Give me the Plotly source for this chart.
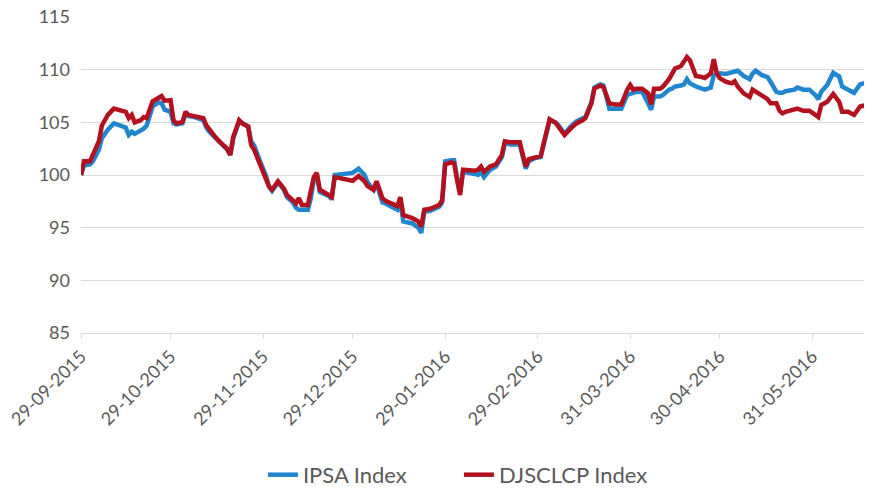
import plotly.graph_objects as go

dates = [
    "2015-09-29", "2015-09-30", "2015-10-02", "2015-10-03", "2015-10-05", "2015-10-06", "2015-10-08", "2015-10-10",
    "2015-10-12", "2015-10-14", "2015-10-15", "2015-10-16", "2015-10-17", "2015-10-19", "2015-10-20", "2015-10-21",
    "2015-10-23", "2015-10-25", "2015-10-26", "2015-10-27", "2015-10-29", "2015-10-30", "2015-10-31", "2015-11-02",
    "2015-11-03", "2015-11-04", "2015-11-06", "2015-11-09", "2015-11-10", "2015-11-11", "2015-11-13", "2015-11-15",
    "2015-11-17", "2015-11-18", "2015-11-19", "2015-11-21", "2015-11-22", "2015-11-24", "2015-11-25", "2015-11-26",
    "2015-11-28", "2015-11-30", "2015-12-01", "2015-12-02", "2015-12-04", "2015-12-06", "2015-12-07", "2015-12-09",
    "2015-12-10", "2015-12-11", "2015-12-12", "2015-12-14", "2015-12-15", "2015-12-16", "2015-12-17", "2015-12-18",
    "2015-12-21", "2015-12-22", "2015-12-23", "2015-12-25", "2015-12-27", "2015-12-29", "2015-12-31", "2016-01-02",
    "2016-01-03", "2016-01-05", "2016-01-06", "2016-01-08", "2016-01-09", "2016-01-12", "2016-01-13", "2016-01-14",
    "2016-01-15", "2016-01-18", "2016-01-20", "2016-01-21", "2016-01-22", "2016-01-24", "2016-01-27", "2016-01-28",
    "2016-01-29", "2016-01-31", "2016-02-01", "2016-02-02", "2016-02-03", "2016-02-04", "2016-02-07", "2016-02-08",
    "2016-02-09", "2016-02-10", "2016-02-11", "2016-02-13", "2016-02-15", "2016-02-17", "2016-02-18", "2016-02-20",
    "2016-02-23", "2016-02-24", "2016-02-25", "2016-02-26", "2016-02-28", "2016-03-01", "2016-03-02", "2016-03-04",
    "2016-03-06", "2016-03-07", "2016-03-09", "2016-03-11", "2016-03-13", "2016-03-15", "2016-03-16", "2016-03-18",
    "2016-03-19", "2016-03-21", "2016-03-22", "2016-03-23", "2016-03-24", "2016-03-26", "2016-03-28", "2016-03-30",
    "2016-03-31", "2016-04-01", "2016-04-02", "2016-04-04", "2016-04-06", "2016-04-07", "2016-04-08", "2016-04-10",
    "2016-04-11", "2016-04-13", "2016-04-14", "2016-04-15", "2016-04-17", "2016-04-18", "2016-04-19", "2016-04-20",
    "2016-04-22", "2016-04-24", "2016-04-25", "2016-04-27", "2016-04-28", "2016-04-29", "2016-04-30", "2016-05-02",
    "2016-05-04", "2016-05-05", "2016-05-06", "2016-05-08", "2016-05-10", "2016-05-11", "2016-05-12", "2016-05-14",
    "2016-05-16", "2016-05-17", "2016-05-19", "2016-05-20", "2016-05-21", "2016-05-22", "2016-05-25", "2016-05-26",
    "2016-05-28", "2016-05-30", "2016-06-01", "2016-06-02", "2016-06-03", "2016-06-05", "2016-06-07", "2016-06-09",
    "2016-06-10", "2016-06-12", "2016-06-14", "2016-06-16", "2016-06-19",
]

ipsa = [
    100.0, 100.9, 101.0, 101.3, 102.4, 103.5, 104.3, 104.9,
    104.7, 104.5, 103.8, 104.1, 103.9, 104.2, 104.4, 104.7,
    106.5, 106.9, 106.8, 106.2, 106.0, 104.9, 104.8, 104.9,
    105.8, 105.6, 105.5, 105.2, 104.5, 104.1, 103.5, 102.9,
    102.4, 101.9, 103.5, 105.1, 104.9, 104.6, 103.2, 102.8,
    101.3, 99.9, 98.9, 98.5, 99.3, 98.6, 97.9, 97.4,
    96.9, 96.7, 96.7, 96.7, 97.8, 99.6, 100.0, 98.4,
    98.0, 97.7, 100.0, 100.1, 100.2, 100.2, 100.6, 100.0,
    99.3, 98.6, 99.2, 97.4, 97.3, 96.8, 96.7, 97.4,
    95.6, 95.4, 95.0, 94.5, 96.5, 96.6, 97.0, 97.4,
    101.3, 101.4, 101.4, 99.8, 98.4, 100.3, 100.2, 100.1,
    100.0, 100.3, 99.8, 100.5, 100.8, 101.7, 103.0, 102.9,
    102.9, 101.6, 100.6, 101.3, 101.6, 101.7, 102.9, 105.2,
    105.0, 104.7, 103.9, 104.6, 105.1, 105.4, 105.5, 106.9,
    108.3, 108.6, 108.5, 107.45, 106.3, 106.3, 106.3, 107.6,
    107.75, 107.8, 107.9, 107.9, 106.8, 106.2, 107.45, 107.45,
    107.6, 108.1, 108.2, 108.4, 108.5, 108.6, 109.1, 108.7,
    108.4, 108.2, 108.1, 108.3, 109.5, 109.6, 109.65, 109.6,
    109.8, 109.8, 109.9, 109.4, 109.1, 109.65, 109.9, 109.5,
    109.3, 108.85, 107.9, 107.8, 107.8, 107.95, 108.1, 108.3,
    108.1, 108.1, 107.6, 107.2, 107.9, 108.55, 109.7, 109.35,
    108.4, 108.1, 107.8, 108.6, 108.85,
]

djsclcp = [
    100.0, 101.3, 101.3, 101.9, 103.2, 104.7, 105.7, 106.3,
    106.1, 106.0, 105.4, 105.7, 105.0, 105.2, 105.5, 105.4,
    107.0, 107.3, 107.5, 107.05, 107.1, 105.2, 104.9, 105.05,
    106.0, 105.7, 105.6, 105.4, 104.7, 104.3, 103.6, 103.0,
    102.5, 101.9, 103.6, 105.2, 104.9, 104.6, 102.85, 102.4,
    101.0, 99.7, 98.9, 98.6, 99.4, 98.7, 98.1, 97.6,
    97.3, 97.8, 97.15, 97.15, 98.3, 99.8, 100.2, 98.6,
    98.1, 97.9, 99.8, 99.7, 99.6, 99.45, 99.9, 99.4,
    98.95, 98.6, 99.4, 97.8, 97.55, 97.15, 97.05, 97.9,
    96.2, 95.9, 95.6, 95.1, 96.7, 96.8, 97.15, 97.6,
    101.0, 101.2, 101.1, 99.5, 98.1, 100.5, 100.4, 100.4,
    100.5, 100.8, 100.3, 100.8, 101.0, 101.9, 103.2, 103.1,
    103.1, 101.7, 100.8, 101.5, 101.7, 101.8, 103.0, 105.3,
    104.95, 104.6, 103.8, 104.4, 104.9, 105.2, 105.4, 106.8,
    108.2, 108.5, 108.35, 107.6, 106.8, 106.7, 106.7, 108.1,
    108.55, 108.1, 108.2, 108.2, 107.75, 106.7, 108.2, 108.2,
    108.4, 109.1, 109.7, 110.1, 110.35, 110.75, 111.2, 110.9,
    109.4, 109.3, 109.2, 109.65, 111.0, 109.65, 109.2, 108.85,
    108.7, 108.9, 108.4, 107.75, 107.4, 108.1, 107.9, 107.5,
    107.2, 106.8, 106.8, 106.1, 105.85, 106.0, 106.2, 106.3,
    106.1, 106.1, 105.7, 105.5, 106.65, 106.95, 107.7, 106.95,
    106.0, 106.0, 105.7, 106.5, 106.7,
]

tick_dates = ["2015-09-29", "2015-10-29", "2015-11-29", "2015-12-29", "2016-01-29",
              "2016-02-29", "2016-03-31", "2016-04-30", "2016-05-31"]
tick_labels = ["29-09-2015", "29-10-2015", "29-11-2015", "29-12-2015", "29-01-2016",
               "29-02-2016", "31-03-2016", "30-04-2016", "31-05-2016"]

FONT = "Lato, 'Open Sans', sans-serif"
GREY = "#595959"

fig = go.Figure()
fig.add_trace(go.Scatter(x=dates, y=ipsa, mode="lines", name="IPSA Index",
                         line=dict(color="#2186d0", width=4.5)))
fig.add_trace(go.Scatter(x=dates, y=djsclcp, mode="lines", name="DJSCLCP Index",
                         line=dict(color="#b3111e", width=4.5)))

fig.update_layout(
    width=864, height=480,
    margin=dict(l=73, r=0, t=9, b=155, autoexpand=False),
    paper_bgcolor="white", plot_bgcolor="white",
    font=dict(family=FONT, size=18, color=GREY),
    showlegend=True,
    legend=dict(orientation="h", x=0.230, xanchor="left", y=-0.449, yanchor="middle",
                font=dict(size=22, color=GREY), entrywidth=151, entrywidthmode="pixels"),
    xaxis=dict(
        type="date", range=["2015-09-29", "2016-06-20"], automargin=False,
        tickvals=tick_dates, ticktext=tick_labels, tickangle=-45,
        showgrid=False, showline=True, linecolor="#d9d9d9", linewidth=1,
        ticks="outside", ticklen=5, tickcolor="#d9d9d9",
        tickfont=dict(size=18, color=GREY), zeroline=False,
        ticklabeloverflow="allow",
    ),
    yaxis=dict(
        range=[85, 115], tickvals=[85, 90, 95, 100, 105, 110, 115], automargin=False,
        showgrid=True, gridcolor="#d9d9d9", gridwidth=1,
        showline=False, zeroline=False, ticks="", ticklabelstandoff=10,
        tickfont=dict(size=18, color=GREY), ticklabeloverflow="allow",
    ),
)

fig.write_html("out.html")
